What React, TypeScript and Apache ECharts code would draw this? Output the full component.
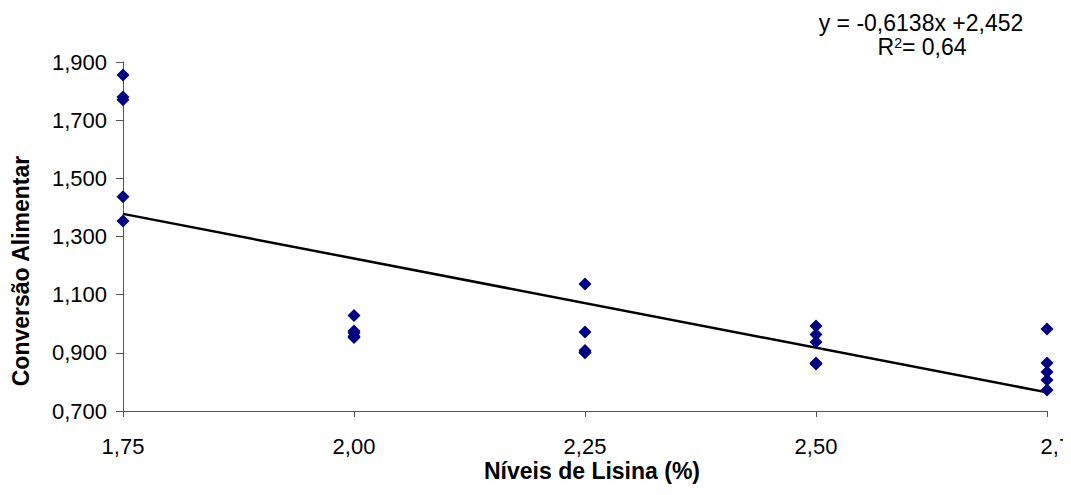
import React, { useEffect, useRef } from "react";
import * as echarts from "echarts";

const lysineLevels = [1.75, 2.0, 2.25, 2.5, 2.75];
const fcrAt175 = [1.855, 1.78, 1.77, 1.437, 1.353];
const fcrAt200 = [1.028, 0.975, 0.968, 0.957, 0.953];
const fcrAt225 = [1.137, 0.972, 0.908, 0.902, 0.9];
const fcrAt250 = [0.992, 0.963, 0.937, 0.865, 0.862];
const fcrAt275 = [0.982, 0.865, 0.834, 0.807, 0.772];
const fcrGroups = [fcrAt175, fcrAt200, fcrAt225, fcrAt250, fcrAt275];

const trendSlope = -0.6138;
const trendIntercept = 2.452;
const trendX = [1.75, 2.75];

const xTitle = "Níveis de Lisina (%)";
const yTitle = "Conversão Alimentar";

export default function App() {
  const ref = useRef<HTMLDivElement>(null);
  useEffect(() => {
    if (!ref.current) return;
    const chart = echarts.init(ref.current, undefined, { renderer: "svg" });
    const points: number[][] = [];
    lysineLevels.forEach((x, i) => fcrGroups[i].forEach((y) => points.push([x, y])));
    const trend = trendX.map((x) => [x, trendIntercept + trendSlope * x]);
    const font = "Arial, 'Liberation Sans', sans-serif";
    chart.setOption({
      animation: false,
      backgroundColor: "#ffffff",
      textStyle: { fontFamily: font },
      grid: { left: 123, top: 62, right: 16, bottom: 84, containLabel: false, outerBoundsMode: "none" },
      xAxis: {
        type: "value",
        min: 1.75,
        max: 2.75,
        interval: 0.25,
        splitLine: { show: false },
        axisLine: { lineStyle: { color: "#555555", width: 1 } },
        axisTick: { show: true, inside: false, length: 6, lineStyle: { color: "#555555" } },
        axisLabel: {
          color: "#000000",
          fontSize: 22,
          fontFamily: font,
          margin: 24,
          formatter: (v: number) => {
            const s = v.toFixed(2).replace(".", ",");
            return v >= 2.75 ? "{e|" + s + "}" : s;
          },
          rich: {
            e: { fontSize: 22, fontFamily: font, color: "#000000", padding: [0, 0, 0, 30] },
          },
        },
      },
      yAxis: {
        type: "value",
        min: 0.7,
        max: 1.9,
        interval: 0.2,
        splitLine: { show: false },
        axisLine: { show: true, lineStyle: { color: "#555555", width: 1 } },
        axisTick: { show: true, inside: false, length: 7, lineStyle: { color: "#555555" } },
        axisLabel: {
          color: "#000000",
          fontSize: 22,
          fontFamily: font,
          margin: 16,
          formatter: (v: number) => v.toFixed(3).replace(".", ","),
        },
      },
      series: [
        {
          type: "line",
          data: trend,
          symbol: "none",
          lineStyle: { color: "#000000", width: 2.5 },
          z: 1,
        },
        {
          type: "scatter",
          data: points,
          symbol: "diamond",
          symbolSize: 13,
          itemStyle: { color: "#000080", opacity: 1 },
          z: 3,
        },
      ],
      graphic: [
        {
          type: "text",
          x: 592,
          y: 471,
          style: {
            text: xTitle,
            fontSize: 23,
            fontWeight: "bold",
            fontFamily: font,
            fill: "#000000",
            textAlign: "center",
            textVerticalAlign: "middle",
          },
        },
        {
          type: "text",
          x: 21,
          y: 271,
          rotation: Math.PI / 2,
          style: {
            text: yTitle,
            fontSize: 23,
            fontWeight: "bold",
            fontFamily: font,
            fill: "#000000",
            textAlign: "center",
            textVerticalAlign: "middle",
          },
        },
        {
          type: "text",
          x: 921,
          y: 23,
          style: {
            text: "y = -0,6138x +2,452",
            fontSize: 23,
            lineHeight: 22,
            fontFamily: font,
            fill: "#000000",
            textAlign: "center",
            textVerticalAlign: "middle",
          },
        },
        {
          type: "text",
          x: 922,
          y: 47,
          style: {
            text: "{r|R}{s|2}{r|= 0,64}",
            fontFamily: font,
            fill: "#000000",
            textAlign: "center",
            textVerticalAlign: "middle",
            rich: {
              r: { fontSize: 23, fontFamily: font, fill: "#000000", lineHeight: 22 },
              s: { fontSize: 14, fontFamily: font, fill: "#000000", verticalAlign: "top", lineHeight: 22, padding: [0, 0, 8, 0] },
            },
          },
        },
      ],
    });
    return () => chart.dispose();
  }, []);
  return (
    <div style={{ position: "absolute", left: 0, top: 0, width: 1071, height: 495, background: "#ffffff", overflow: "hidden" }}>
      <div ref={ref} style={{ width: 1063, height: 495 }} />
    </div>
  );
}
